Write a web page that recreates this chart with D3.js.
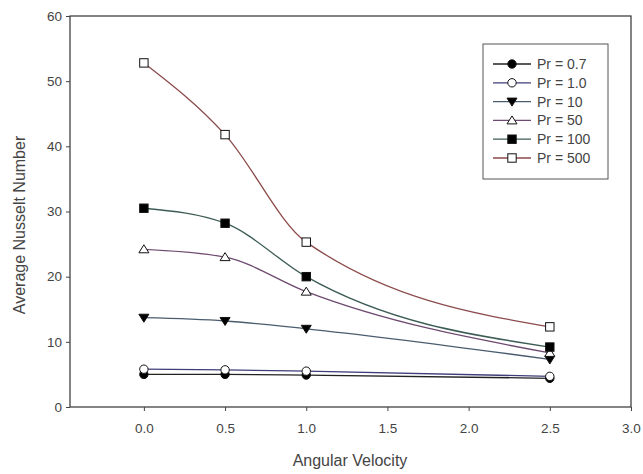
<!DOCTYPE html>
<html>
<head>
<meta charset="utf-8">
<script src="https://cdn.jsdelivr.net/npm/d3@7"></script>
<style>
body { margin: 0; background: #fff; }
text { font-family: "Liberation Sans", Arial, sans-serif; fill: #444; }
</style>
</head>
<body>
<svg id="chart" width="643" height="474"></svg>
<script>
const velocity = [0, 0.5, 1.0, 2.5]
const seriesNames = ['Pr = 0.7', 'Pr = 1.0', 'Pr = 10', 'Pr = 50', 'Pr = 100', 'Pr = 500']
const pr07 = [5.0, 5.0, 4.9, 4.4]
const pr1 = [5.8, 5.7, 5.5, 4.7]
const pr10 = [13.7, 13.2, 12.0, 7.3]
const pr50 = [24.2, 23.0, 17.7, 8.3]
const pr100 = [30.5, 28.2, 20.0, 9.2]
const pr500 = [52.8, 41.8, 25.3, 12.3]
const xTicks = [0, 0.5, 1.0, 1.5, 2.0, 2.5, 3.0]
const yTicks = [0, 10, 20, 30, 40, 50, 60]

const svg = d3.select('#chart')
const plotLeft = 70, plotRight = 631, plotTop = 16, plotBottom = 407

const xScale = d3.scaleLinear().domain([-0.455, 3.0]).range([plotLeft, plotRight])
const yScale = d3.scaleLinear().domain([0, 60]).range([plotBottom, plotTop])

const series = [
	{ name: seriesNames[0], values: pr07, color: '#222222', shape: 'circle', fill: '#000' },
	{ name: seriesNames[1], values: pr1, color: '#3e3e7a', shape: 'circle', fill: '#fff' },
	{ name: seriesNames[2], values: pr10, color: '#4a5d6e', shape: 'triangle', fill: '#000' },
	{ name: seriesNames[3], values: pr50, color: '#6e4a70', shape: 'triangle-up', fill: '#fff' },
	{ name: seriesNames[4], values: pr100, color: '#3d5c56', shape: 'square', fill: '#000' },
	{ name: seriesNames[5], values: pr500, color: '#8c4a4a', shape: 'square', fill: '#fff' }
]

// frame
svg.append('rect')
	.attr('x', plotLeft).attr('y', plotTop)
	.attr('width', plotRight - plotLeft).attr('height', plotBottom - plotTop)
	.attr('fill', 'none')
	.style('stroke', '#333')
	.style('stroke-width', 1.2)

const xAxis = d3.axisBottom(xScale).tickValues(xTicks).tickFormat(d3.format('.1f')).tickSize(4).tickPadding(12)
const yAxis = d3.axisLeft(yScale).tickValues(yTicks).tickFormat(d3.format('d')).tickSize(4).tickPadding(4)

svg.append('g')
	.attr('transform', `translate(0, ${plotBottom})`)
	.call(xAxis)
	.call(g => g.select('.domain').remove())
	.style('font-size', '13.5px')

svg.append('g')
	.attr('transform', `translate(${plotLeft}, 0)`)
	.call(yAxis)
	.call(g => g.select('.domain').remove())
	.style('font-size', '13.5px')

svg.selectAll('.tick line').style('stroke', '#444')
svg.selectAll('.tick text').style('fill', '#444').style('font-family', '"Liberation Sans", Arial, sans-serif')

svg.append('text')
	.attr('x', 350)
	.attr('y', 466)
	.attr('text-anchor', 'middle')
	.style('font-size', '16px')
	.text('Angular Velocity')

svg.append('text')
	.attr('transform', `translate(25, 225) rotate(-90)`)
	.attr('text-anchor', 'middle')
	.style('font-size', '16px')
	.text('Average Nusselt Number')

const line = d3.line()
	.x((d, i) => xScale(velocity[i]))
	.y(d => yScale(d))
	.curve(d3.curveMonotoneX)

const drawMarker = (g, shape, fill, x, y) => {
	if (shape === 'circle') {
		g.append('circle').attr('cx', x).attr('cy', y).attr('r', 4.2)
			.attr('fill', fill).style('stroke', '#111').style('stroke-width', 1)
	} else if (shape === 'square') {
		g.append('rect').attr('x', x - 4.2).attr('y', y - 4.2).attr('width', 8.4).attr('height', 8.4)
			.attr('fill', fill).style('stroke', '#111').style('stroke-width', 1)
	} else if (shape === 'triangle') {
		g.append('path').attr('d', `M ${x - 5} ${y - 3.5} L ${x + 5} ${y - 3.5} L ${x} ${y + 4.5} Z`)
			.attr('fill', fill).style('stroke', '#111').style('stroke-width', 1)
	} else {
		g.append('path').attr('d', `M ${x - 5} ${y + 3.5} L ${x + 5} ${y + 3.5} L ${x} ${y - 4.5} Z`)
			.attr('fill', fill).style('stroke', '#111').style('stroke-width', 1)
	}
}

const groups = svg.selectAll('g.series')
	.data(series)
	.enter()
	.append('g')
		.attr('class', 'series')

groups.append('path')
	.attr('d', d => line(d.values))
	.attr('fill', 'none')
	.style('stroke', d => d.color)
	.style('stroke-width', 1.3)

groups.each(function (d) {
	const g = d3.select(this)
	d.values.forEach((v, i) => drawMarker(g, d.shape, d.fill, xScale(velocity[i]), yScale(v)))
})

// legend
const legend = svg.append('g')
legend.append('rect')
	.attr('x', 483).attr('y', 44)
	.attr('width', 125).attr('height', 135)
	.attr('fill', '#fff')
	.style('stroke', '#555')
	.style('stroke-width', 1)

series.forEach((s, i) => {
	const y = 64 + i * 18.8
	legend.append('line')
		.attr('x1', 493).attr('x2', 531)
		.attr('y1', y).attr('y2', y)
		.style('stroke', s.color)
		.style('stroke-width', 1.3)
	drawMarker(legend, s.shape, s.fill, 512, y)
	legend.append('text')
		.attr('x', 537).attr('y', y + 5)
		.style('font-size', '14px')
		.text(s.name)
})
</script>
</body>
</html>
